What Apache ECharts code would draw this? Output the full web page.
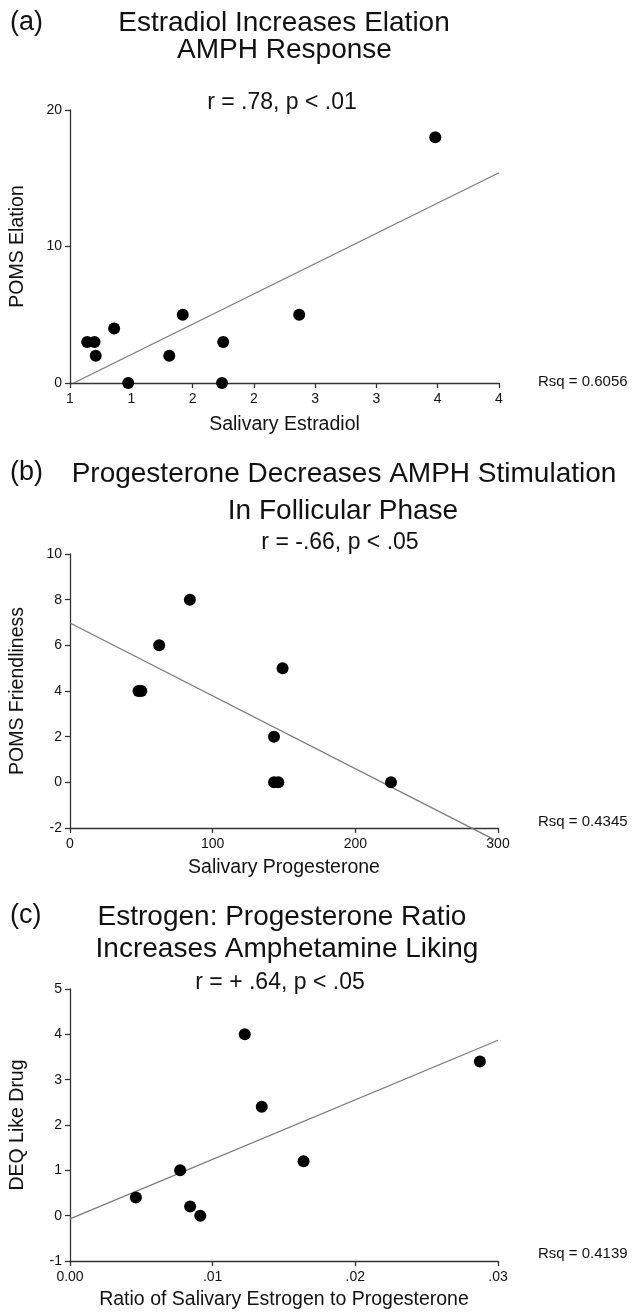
<!DOCTYPE html>
<html>
<head>
<meta charset="utf-8">
<script src="https://cdn.jsdelivr.net/npm/echarts@6/dist/echarts.min.js"></script>
<style>
  html, body { margin: 0; padding: 0; background: #fff; }
  #chart { width: 634px; height: 1312px; }
</style>
</head>
<body>
<div id="chart"></div>
<script>
// (a) estradiol vs elation
const estradiol = [3.73, 0.89, 0.95, 0.96, 1.11, 1.225, 1.56, 1.67, 1.99, 2.0, 2.62];
const elation   = [18, 3, 3, 2, 4, 0, 2, 5, 0, 3, 5];
const fitA      = [[0.78, 0], [4.25, 15.4]];
const ticksAX   = [0.75, 1.25, 1.75, 2.25, 2.75, 3.25, 3.75, 4.25];
const labelsAX  = ['1', '1', '2', '2', '3', '3', '4', '4'];

// (b) progesterone vs friendliness
const progesterone = [84, 62.5, 48, 50, 149, 143, 143, 146, 225];
const friendliness = [8, 6, 4, 4, 5, 2, 0, 0, 0];
const fitB         = [[0, 6.98], [297, -2.5]];

// (c) E:P ratio vs like drug
const epRatio  = [0.01225, 0.01344, 0.01637, 0.02873, 0.00772, 0.00462, 0.00842, 0.00913];
const likeDrug = [4.0, 2.4, 1.2, 3.4, 1.0, 0.4, 0.2, 0.0];
const fitC     = [[0, -0.07], [0.03, 3.87]];
const ticksCX  = [0, 0.01, 0.02, 0.03];
const labelsCX = ['0.00', '.01', '.02', '.03'];

const rsq = ['0.6056', '0.4345', '0.4139'];

const FONT = 'Liberation Sans, Arial, Helvetica, sans-serif';
const INK = '#111';

function zip(xs, ys) {
    return xs.map((x, i) => [x, ys[i]]);
}

function pickLabel(ticks, labels) {
    return function (v) {
        const i = ticks.findIndex(t => Math.abs(t - v) < 1e-9);
        return i >= 0 ? labels[i] : '';
    };
}

function axisBase(gridIndex, name, gap) {
    return {
        gridIndex: gridIndex,
        name: name,
        nameLocation: 'middle',
        nameGap: gap,
        nameTextStyle: { fontFamily: FONT, fontSize: 19.5, color: INK },
        axisLine: { show: true, onZero: false, lineStyle: { color: '#333', width: 1.3 } },
        axisTick: { show: true, inside: false, length: 5, lineStyle: { color: '#333', width: 1.3 } },
        axisLabel: { fontFamily: FONT, fontSize: 14, color: INK, margin: 9 },
        splitLine: { show: false }
    };
}

const chart = echarts.init(document.getElementById('chart'));

const xAxes = [
    Object.assign(axisBase(0, 'Salivary Estradiol', 32), {
        type: 'value', min: 0.75, max: 4.25
    }),
    Object.assign(axisBase(1, 'Salivary Progesterone', 30), {
        type: 'value', min: 0, max: 300, interval: 100
    }),
    Object.assign(axisBase(2, 'Ratio of Salivary Estrogen to Progesterone', 29), {
        type: 'value', min: 0, max: 0.03
    })
];
xAxes[0].axisTick.customValues = ticksAX;
xAxes[0].axisLabel.customValues = ticksAX;
xAxes[0].axisLabel.formatter = pickLabel(ticksAX, labelsAX);
xAxes[2].axisTick.customValues = ticksCX;
xAxes[2].axisLabel.customValues = ticksCX;
xAxes[2].axisLabel.formatter = pickLabel(ticksCX, labelsCX);

const yAxes = [
    Object.assign(axisBase(0, 'POMS Elation', 42), {
        type: 'value', min: 0, max: 20, interval: 10, nameRotate: 90
    }),
    Object.assign(axisBase(1, 'POMS Friendliness', 42), {
        type: 'value', min: -2, max: 10, interval: 2, nameRotate: 90
    }),
    Object.assign(axisBase(2, 'DEQ Like Drug', 42), {
        type: 'value', min: -1, max: 5, interval: 1, nameRotate: 90
    })
];
yAxes.forEach(a => { a.axisLabel.margin = 8; });

function dots(i, data) {
    return {
        type: 'scatter', xAxisIndex: i, yAxisIndex: i, data: data,
        symbol: 'circle', symbolSize: 12,
        itemStyle: { color: '#000', opacity: 1 }, z: 3
    };
}
function fit(i, data) {
    return {
        type: 'line', xAxisIndex: i, yAxisIndex: i, data: data,
        symbol: 'none', clip: false,
        lineStyle: { color: '#7a7a7a', width: 1.3 }, z: 2
    };
}

// texts: [text, x, y, size, align]
const texts = [
    ['(a)', 10, 23, 27, 'left'],
    ['Estradiol Increases Elation', 284, 23, 28, 'center'],
    ['AMPH Response', 284.5, 50.5, 28, 'center'],
    ['r = .78, p < .01', 282, 103, 23, 'center'],
    ['Rsq = ' + rsq[0], 538, 382, 15, 'left'],

    ['(b)', 10, 473, 27, 'left'],
    ['Progesterone Decreases AMPH Stimulation', 344, 474.5, 28, 'center'],
    ['In Follicular Phase', 343, 511, 28, 'center'],
    ['r = -.66, p < .05', 340, 543, 23, 'center'],
    ['Rsq = ' + rsq[1], 538, 822, 15, 'left'],

    ['(c)', 10, 916, 27, 'left'],
    ['Estrogen: Progesterone Ratio', 282, 917, 28, 'center'],
    ['Increases Amphetamine Liking', 287, 949, 28, 'center'],
    ['r = + .64, p < .05', 280, 982.5, 23, 'center'],
    ['Rsq = ' + rsq[2], 538, 1254, 15, 'left']
];

chart.setOption({
    animation: false,
    backgroundColor: '#fff',
    grid: [
        { left: 70, top: 110, width: 429, height: 273 },
        { left: 70, top: 554, width: 428, height: 274 },
        { left: 68, top: 989, width: 430, height: 272 }
    ],
    xAxis: xAxes,
    yAxis: yAxes,
    series: [
        fit(0, fitA), dots(0, zip(estradiol, elation)),
        fit(1, fitB), dots(1, zip(progesterone, friendliness)),
        fit(2, fitC), dots(2, zip(epRatio, likeDrug))
    ],
    graphic: texts.map(t => ({
        type: 'text', x: t[1], y: t[2], silent: true,
        style: {
            text: t[0], fill: INK,
            font: t[3] + 'px ' + FONT,
            textAlign: t[4], textVerticalAlign: 'middle'
        }
    }))
});

window.addEventListener('resize', function () {
    chart.resize();
});
</script>
</body>
</html>
